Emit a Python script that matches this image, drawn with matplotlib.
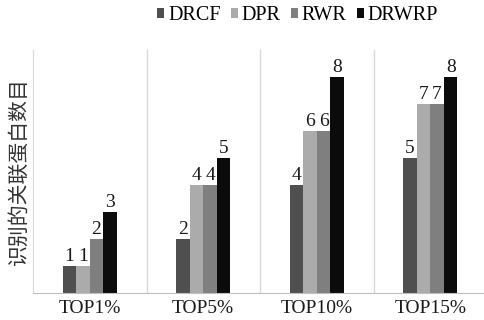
import matplotlib
matplotlib.use("Agg")
import matplotlib.pyplot as plt
import numpy as np

categories = ["TOP1%", "TOP5%", "TOP10%", "TOP15%"]
series_names = ["DRCF", "DPR", "RWR", "DRWRP"]
drcf = [1, 2, 4, 5]
dpr = [1, 4, 6, 7]
rwr = [2, 4, 6, 7]
drwrp = [3, 5, 8, 8]
colors = ["#4f4f4f", "#ababab", "#7f7f7f", "#0b0b0b"]

plt.rcParams['font.family'] = ['Liberation Serif', 'Noto Sans CJK SC']

fig = plt.figure(figsize=(4.84, 3.2), dpi=100)
ax = fig.add_axes([33/484, 1-293/320, (487-33)/484, (293-50)/320])

x = np.arange(len(categories))
w = 0.12
data = [drcf, dpr, rwr, drwrp]
for i, (name, vals, c) in enumerate(zip(series_names, data, colors)):
    pos = x + (i - 1.5) * w
    ax.bar(pos, vals, width=w, color=c, label=name)
    for p, v in zip(pos, vals):
        ax.text(p, v + 0.03, str(v), ha='center', va='bottom', fontsize=14,
                family='Liberation Serif', color='#1a1a1a')

ax.set_xlim(-0.5, len(categories) - 0.5)
ax.set_ylim(0, 9)
ax.set_xticks(x)
ax.set_xticklabels(categories, fontsize=14, color='#1a1a1a')
ax.tick_params(axis='x', length=0, pad=5)
ax.set_yticks([])
for b in [0.5, 1.5, 2.5]:
    ax.axvline(b, color='#d9d9d9', lw=1, zorder=0)
for s in ['top', 'right']:
    ax.spines[s].set_visible(False)
ax.spines['left'].set_color('#d9d9d9')
ax.spines['bottom'].set_color('#bfbfbf')

ax.set_ylabel("识别的关联蛋白数目", family=['Noto Sans CJK SC'], fontsize=15,
              color='#333333', labelpad=2)

leg = fig.legend(loc='upper left', bbox_to_anchor=(157/484, 1 - 6/320), ncol=4,
                 frameon=False, fontsize=14.5, handlelength=0.35, handleheight=0.35,
                 handletextpad=0.2, columnspacing=0.5, borderaxespad=0, borderpad=0)

fig.savefig("out.png", dpi=100)
